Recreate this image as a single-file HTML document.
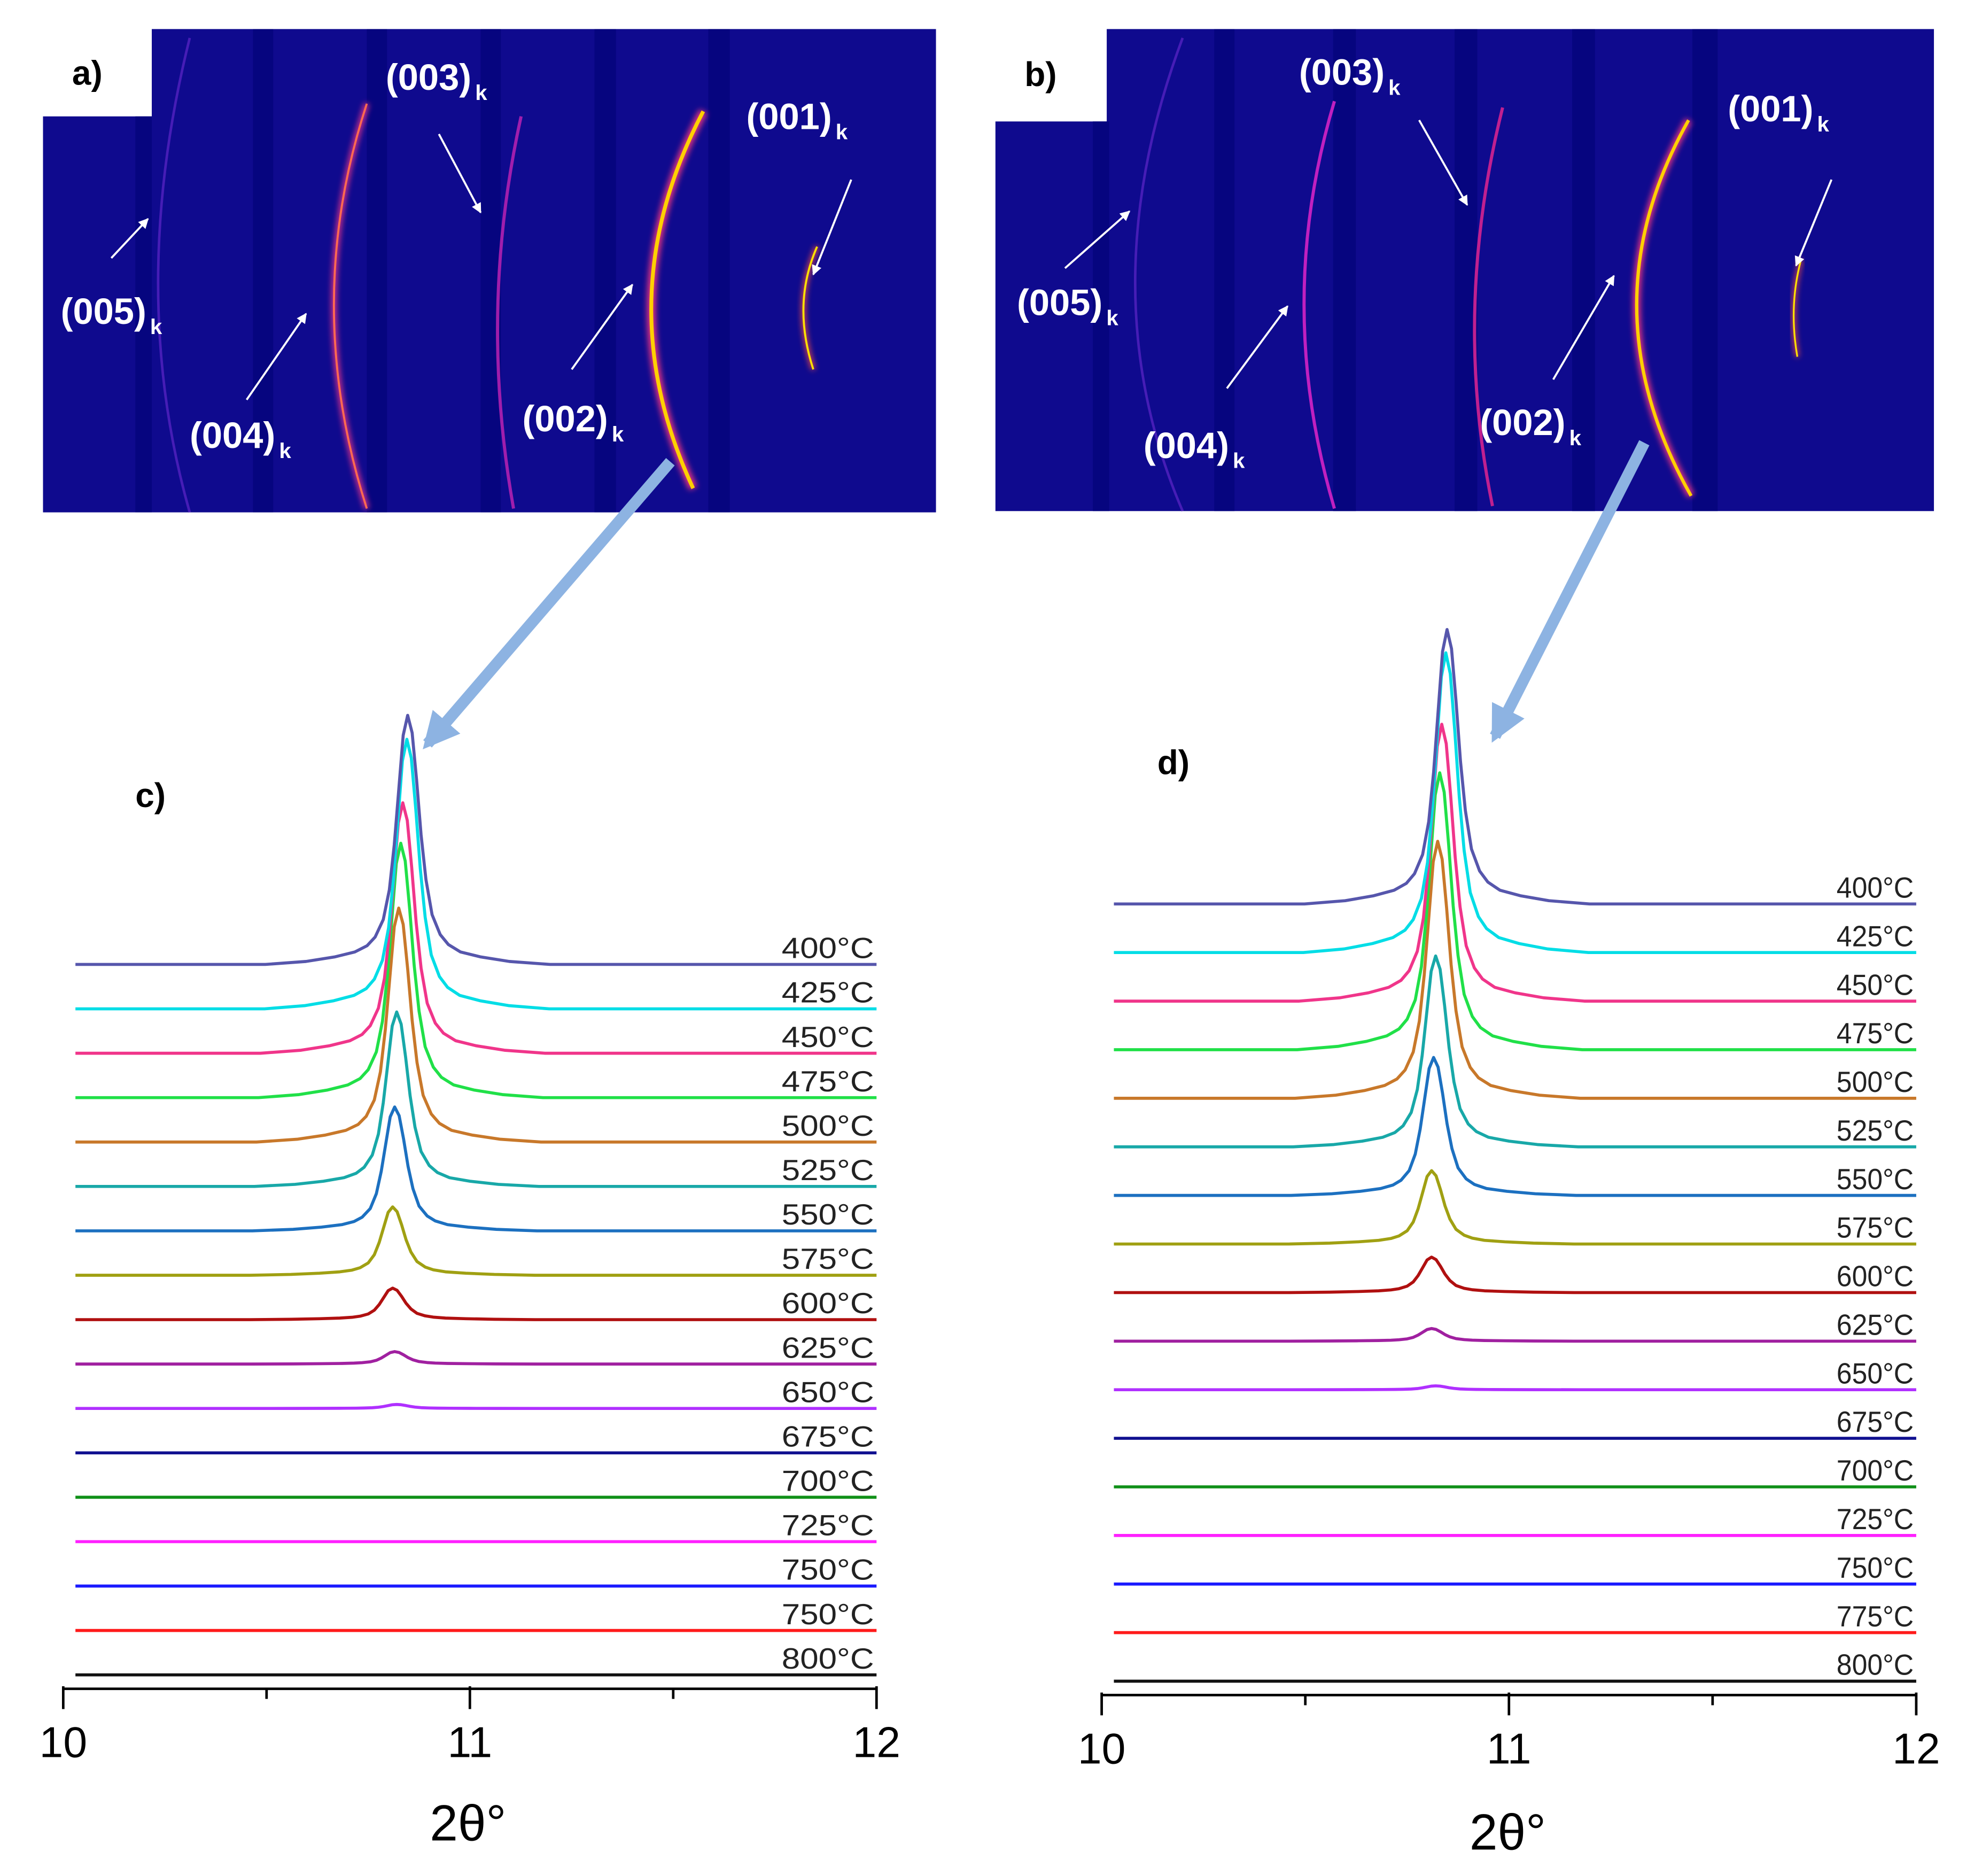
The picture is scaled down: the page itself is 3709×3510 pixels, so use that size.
<!DOCTYPE html>
<html><head><meta charset="utf-8"><style>
html,body{margin:0;padding:0;background:#fff;}
svg{display:block;}
text{font-family:"Liberation Sans",sans-serif;}
</style></head><body>
<svg id="fig" xmlns="http://www.w3.org/2000/svg" width="3709" height="3510" viewBox="0 0 1567 1483" preserveAspectRatio="none">
<defs>
<filter id="glow" x="-50%" y="-10%" width="200%" height="120%"><feGaussianBlur stdDeviation="2.2"/></filter>
<marker id="ah" viewBox="0 0 10 10" refX="9" refY="5" markerWidth="5" markerHeight="5" orient="auto"><path d="M0,0 L10,5 L0,10 z" fill="#fff"/></marker>
<marker id="bh" viewBox="0 0 10 10" refX="8" refY="5" markerWidth="3.2" markerHeight="3.2" orient="auto"><path d="M0,0 L10,5 L0,10 z" fill="#8db3e2"/></marker>
</defs>

<g>
<path d="M120,23 H740 V405 H34 V92 H120 Z" fill="#0f0a8e"/>
<rect x="107" y="92" width="13" height="313" fill="#06057f"/>
<rect x="200" y="23" width="16" height="382" fill="#06057f"/>
<rect x="290" y="23" width="16" height="382" fill="#06057f"/>
<rect x="380" y="23" width="16" height="382" fill="#06057f"/>
<rect x="470" y="23" width="17" height="382" fill="#06057f"/>
<rect x="560" y="23" width="17" height="382" fill="#06057f"/>
<path d="M150,30 Q100,230 150,405" stroke="#6a2ad0" stroke-width="2" fill="none" opacity="0.6"/>
<path d="M290,82 Q238,240 290,402" stroke="#e0308a" stroke-width="4" fill="none" filter="url(#glow)"/>
<path d="M290,82 Q238,240 290,402" stroke="#ff6a50" stroke-width="1.6" fill="none"/>
<path d="M412,92 Q378,245 406,402" stroke="#b020b0" stroke-width="2.5" fill="none" opacity="0.9"/>
<path d="M556,88 Q478,236 548,386" stroke="#e03080" stroke-width="7" fill="none" filter="url(#glow)"/>
<path d="M556,88 Q478,236 548,386" stroke="#ffd000" stroke-width="3" fill="none"/>
<path d="M646,195 Q626,240 643,292" stroke="#ff5040" stroke-width="3" fill="none" filter="url(#glow)"/>
<path d="M646,195 Q626,240 643,292" stroke="#ffe000" stroke-width="1.6" fill="none"/>
</g>
<text x="57" y="67" font-size="27" font-weight="bold">a)</text>
<g fill="#fff" font-weight="bold" font-size="29">
<text x="48" y="256">(005)<tspan font-size="17" dx="3" dy="8">k</tspan></text>
<text x="150" y="354">(004)<tspan font-size="17" dx="3" dy="8">k</tspan></text>
<text x="305" y="71">(003)<tspan font-size="17" dx="3" dy="8">k</tspan></text>
<text x="413" y="341">(002)<tspan font-size="17" dx="3" dy="8">k</tspan></text>
<text x="590" y="102">(001)<tspan font-size="17" dx="3" dy="8">k</tspan></text>
</g>
<g stroke="#fff" stroke-width="1.6" marker-end="url(#ah)">
<line x1="88" y1="204" x2="117" y2="173"/>
<line x1="195" y1="316" x2="242" y2="248"/>
<line x1="347" y1="106" x2="380" y2="168"/>
<line x1="452" y1="292" x2="500" y2="225"/>
<line x1="673" y1="142" x2="643" y2="217"/>
</g>

<g>
<path d="M875,23 H1529 V404 H787 V96 H875 Z" fill="#0f0a8e"/>
<rect x="864" y="96" width="13" height="308" fill="#06057f"/>
<rect x="960" y="23" width="16" height="381" fill="#06057f"/>
<rect x="1054" y="23" width="18" height="381" fill="#06057f"/>
<rect x="1150" y="23" width="18" height="381" fill="#06057f"/>
<rect x="1243" y="23" width="18" height="381" fill="#06057f"/>
<rect x="1338" y="23" width="20" height="381" fill="#06057f"/>
<path d="M935,30 Q860,230 935,404" stroke="#6a2ad0" stroke-width="2" fill="none" opacity="0.6"/>
<path d="M1055,80 Q1007,240 1055,402" stroke="#c020c0" stroke-width="2.5" fill="none"/>
<path d="M1188,85 Q1148,245 1180,400" stroke="#c02090" stroke-width="2.5" fill="none"/>
<path d="M1335,95 Q1252,242 1337,392" stroke="#e03080" stroke-width="6" fill="none" filter="url(#glow)"/>
<path d="M1335,95 Q1252,242 1337,392" stroke="#ffd000" stroke-width="2.6" fill="none"/>
<path d="M1424,205 Q1414,242 1421,282" stroke="#ff5040" stroke-width="2.6" fill="none" filter="url(#glow)"/>
<path d="M1424,205 Q1414,242 1421,282" stroke="#ffe000" stroke-width="1.4" fill="none"/>
</g>
<text x="810" y="68" font-size="27" font-weight="bold">b)</text>
<g fill="#fff" font-weight="bold" font-size="29">
<text x="804" y="249">(005)<tspan font-size="17" dx="3" dy="8">k</tspan></text>
<text x="904" y="362">(004)<tspan font-size="17" dx="3" dy="8">k</tspan></text>
<text x="1027" y="67">(003)<tspan font-size="17" dx="3" dy="8">k</tspan></text>
<text x="1170" y="344">(002)<tspan font-size="17" dx="3" dy="8">k</tspan></text>
<text x="1366" y="96">(001)<tspan font-size="17" dx="3" dy="8">k</tspan></text>
</g>
<g stroke="#fff" stroke-width="1.6" marker-end="url(#ah)">
<line x1="842" y1="212" x2="893" y2="167"/>
<line x1="970" y1="307" x2="1018" y2="242"/>
<line x1="1122" y1="95" x2="1160" y2="162"/>
<line x1="1228" y1="300" x2="1276" y2="218"/>
<line x1="1448" y1="142" x2="1420" y2="210"/>
</g>

<line x1="530" y1="365" x2="338" y2="588" stroke="#8db3e2" stroke-width="9" marker-end="url(#bh)"/>
<line x1="1300" y1="350" x2="1182" y2="582" stroke="#8db3e2" stroke-width="9" marker-end="url(#bh)"/>

<text x="107" y="638" font-size="27" font-weight="bold">c)</text>
<text x="915" y="612" font-size="27" font-weight="bold">d)</text>

<g id="chartC"></g>
<g id="chartD"></g>
</svg>

<script>
const labelsC = ["400°C","425°C","450°C","475°C","500°C","525°C","550°C","575°C","600°C","625°C","650°C","675°C","700°C","725°C","750°C","750°C","800°C"];
const labelsD = ["400°C","425°C","450°C","475°C","500°C","525°C","550°C","575°C","600°C","625°C","650°C","675°C","700°C","725°C","750°C","775°C","800°C"];
const colors = ["#5656ac","#00dde6","#f0358a","#20e048","#c8782a","#18a8a8","#1c70c0","#a0a012","#b01010","#a020a0","#b030ff","#101090","#109018","#ff20ff","#1a1aff","#ff1a1a","#111111"];
const heightsC = [561,607,564,573,527,393,279,154,71,28,9,0,0,0,0,0,0];
const centersC = [10.847,10.845,10.835,10.83,10.825,10.82,10.815,10.81,10.81,10.815,10.82,10.82,10.82,10.82,10.82,10.82,10.82];
const heightsD = [565,617,570,570,529,393,284,151,73,26,8,0,0,0,0,0,0];
const centersD = [10.848,10.845,10.835,10.83,10.825,10.82,10.815,10.81,10.81,10.81,10.82,10.82,10.82,10.82,10.82,10.82,10.82];
const profileOffsets = [-0.35,-0.25,-0.18,-0.13,-0.1,-0.08,-0.06,-0.045,-0.033,-0.022,-0.011,0,0.011,0.022,0.033,0.045,0.06,0.08,0.1,0.13,0.18,0.25,0.35];
const profileValues  = [0,0.012,0.03,0.05,0.075,0.11,0.18,0.3,0.48,0.7,0.92,1,0.93,0.74,0.52,0.34,0.2,0.12,0.08,0.05,0.03,0.012,0];
const xTicks = [10,10.5,11,11.5,12];
const xTickLabels = ["10","","11","","12"];
const offsetStep = 100;

const NS="http://www.w3.org/2000/svg";
function mk(tag, attrs, parent){const e=document.createElementNS(NS,tag);for(const k in attrs)e.setAttribute(k,attrs[k]);parent.appendChild(e);return e;}

function drawPanel(g, cfg, labels, heights, centers){
  const xs = v => cfg.x0 + (v-10)/2*(cfg.x1-cfg.x0);
  const n = labels.length;
  const ys = v => cfg.base - v*cfg.unit;
  for(let i=n-1;i>=0;i--){
    const off=(n-1-i)*offsetStep;
    let pts=[[10.03,off]];
    if(heights[i]>0){
      for(let k=0;k<profileOffsets.length;k++) pts.push([centers[i]+profileOffsets[k], off+heights[i]*profileValues[k]]);
    }
    pts.push([12,off]);
    const d=pts.map((p,k)=>(k?"L":"M")+xs(p[0]).toFixed(2)+","+ys(p[1]).toFixed(2)).join(" ");
    const line=mk("path",{d:d,fill:"none",stroke:colors[i],"stroke-width":2.4,"stroke-linejoin":"round"},g);
    
    
    const t=mk("text",{x:cfg.x1-2,y:ys(off)-5,"text-anchor":"end","font-size":cfg.lfs,fill:"#222",textLength:cfg.lw,lengthAdjust:"spacingAndGlyphs"},g);
    t.textContent=labels[i];
    
    
  }
  const ax=mk("line",{x1:cfg.x0,y1:cfg.ay,x2:cfg.x1,y2:cfg.ay,stroke:"#000","stroke-width":2},g);
  
  
  xTicks.forEach((v,k)=>{
    const major=xTickLabels[k]!=="";
    const tk=mk("line",{x1:xs(v),y1:major?cfg.ay-2:cfg.ay,x2:xs(v),y2:cfg.ay+(major?16:8),stroke:"#000","stroke-width":2},g);
    
    
    if(major){
      const tl=mk("text",{x:xs(v),y:cfg.ay+54,"text-anchor":"middle","font-size":34},g);
      tl.textContent=xTickLabels[k];
      
      
    }
  });
  const at=mk("text",{x:cfg.tx,y:cfg.ty,"text-anchor":"middle","font-size":40},g);
  at.textContent="2θ°";
  
  
}
drawPanel(document.getElementById("chartC"),{x0:50,x1:693,base:1324,unit:0.351,ay:1335,lfs:23,lw:73,tx:370,ty:1455},labelsC,heightsC,centersC);
drawPanel(document.getElementById("chartD"),{x0:871,x1:1515,base:1329,unit:0.384,ay:1340,lfs:23,lw:61,tx:1192,ty:1462},labelsD,heightsD,centersD);
</script>
</body></html>
